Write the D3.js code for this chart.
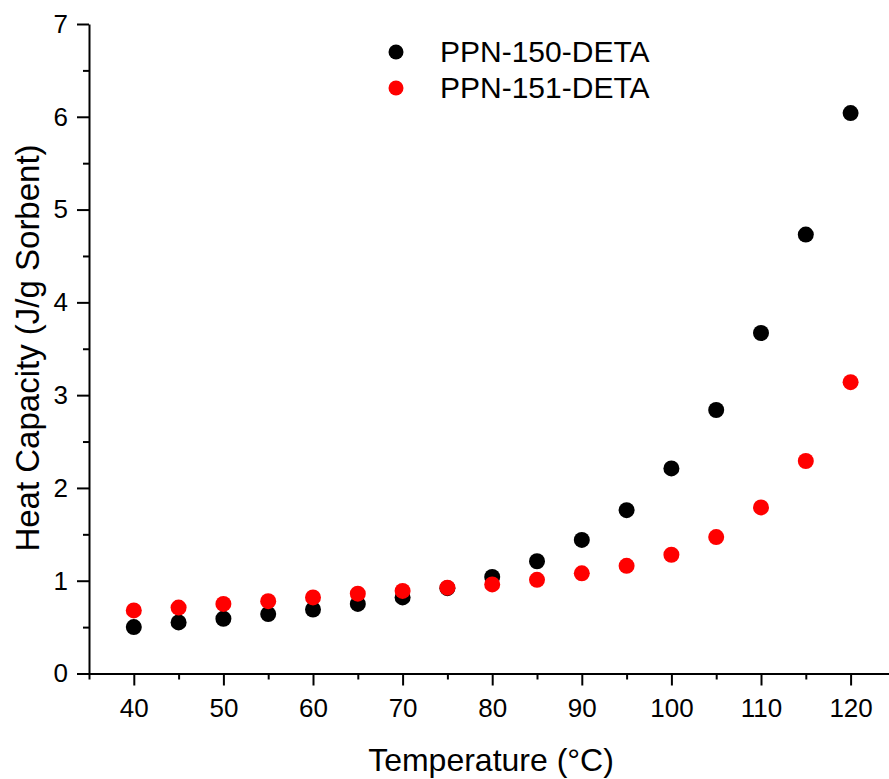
<!DOCTYPE html>
<html>
<head>
<meta charset="utf-8">
<script src="https://cdn.jsdelivr.net/npm/d3@7"></script>
<style>
  body { margin: 0; background: #fff; }
  svg { display: block; }
  svg text { font-family: Arial, "Liberation Sans", sans-serif; }
</style>
</head>
<body>
<div id="chart"></div>
<script>
//////////////////////////// data ////////////////////////////
var temps = [40, 45, 50, 55, 60, 65, 70, 75, 80, 85, 90, 95, 100, 105, 110, 115, 120];
var ppn150 = [0.50, 0.55, 0.59, 0.64, 0.69, 0.75, 0.82, 0.92, 1.04, 1.21, 1.44, 1.76, 2.21, 2.84, 3.67, 4.73, 6.04];
var ppn151 = [0.68, 0.71, 0.75, 0.78, 0.82, 0.86, 0.89, 0.925, 0.96, 1.01, 1.08, 1.16, 1.28, 1.47, 1.79, 2.29, 3.14];
var seriesNames = ["PPN-150-DETA", "PPN-151-DETA"];
var seriesColors = ["#000000", "#ff0000"];
var xMajor = [40, 50, 60, 70, 80, 90, 100, 110, 120];
var xMinor = [35, 45, 55, 65, 75, 85, 95, 105, 115, 125];
var yMajor = [0, 1, 2, 3, 4, 5, 6, 7];
var yMinor = [0.5, 1.5, 2.5, 3.5, 4.5, 5.5, 6.5];

//////////////////////////// layout ////////////////////////////
var wdim = 889, hdim = 779;
var margin = {top: 24, left: 89, bottom: 105.5};

var svg = d3.select("#chart").append("svg")
  .attr("width", wdim)
  .attr("height", hdim);

var x = d3.scaleLinear().domain([35, 125]).range([margin.left, margin.left + 90 * 8.96]);
var y = d3.scaleLinear().domain([0, 7]).range([hdim - margin.bottom, margin.top]);

// axes
function styleAxis(g) {
  g.attr("font-family", "Arial, 'Liberation Sans', sans-serif").attr("font-size", 26);
  g.select(".domain").attr("stroke", "#000").attr("stroke-width", 2);
  g.selectAll(".tick line").attr("stroke", "#000").attr("stroke-width", 2);
  g.selectAll(".tick text").attr("fill", "#000");
}

svg.append("g")
  .attr("transform", "translate(0," + y(0) + ")")
  .call(d3.axisBottom(x).tickValues(xMinor).tickSize(6).tickFormat("").tickSizeOuter(0))
  .call(styleAxis);
svg.append("g")
  .attr("transform", "translate(0," + y(0) + ")")
  .call(d3.axisBottom(x).tickValues(xMajor).tickSize(12).tickPadding(13).tickFormat(d3.format("d")).tickSizeOuter(0))
  .call(styleAxis)
  .call(function(g){ g.select(".domain").remove(); });

svg.append("g")
  .attr("transform", "translate(" + x(35) + ",0)")
  .call(d3.axisLeft(y).tickValues(yMinor).tickSize(6).tickFormat("").tickSizeOuter(0))
  .call(styleAxis);
svg.append("g")
  .attr("transform", "translate(" + x(35) + ",0)")
  .call(d3.axisLeft(y).tickValues(yMajor).tickSize(12).tickPadding(9).tickFormat(d3.format("d")).tickSizeOuter(0))
  .call(styleAxis)
  .call(function(g){ g.select(".domain").remove(); });

// axis titles
svg.append("text")
  .attr("x", 491)
  .attr("y", 771)
  .attr("text-anchor", "middle")
  .style("font-size", "32px")
  .attr("fill", "#000")
  .text("Temperature (\u00B0C)");

svg.append("text")
  .attr("transform", "translate(39," + 348 + ") rotate(-90)")
  .attr("text-anchor", "middle")
  .style("font-size", "33px")
  .attr("fill", "#000")
  .text("Heat Capacity (J/g Sorbent)");

//////////////////////////// points ////////////////////////////
var allSeries = [ppn150, ppn151];
allSeries.forEach(function(vals, si){
  svg.append("g").selectAll("circle")
    .data(temps)
    .enter().append("circle")
    .attr("cx", function(d){ return x(d); })
    .attr("cy", function(d, i){ return y(vals[i]); })
    .attr("r", 8)
    .attr("fill", seriesColors[si]);
});

//////////////////////////// legend ////////////////////////////
var legend = svg.append("g");
seriesNames.forEach(function(name, i){
  legend.append("circle")
    .attr("cx", 396)
    .attr("cy", 52 + i * 36)
    .attr("r", 7.5)
    .attr("fill", seriesColors[i]);
  legend.append("text")
    .attr("x", 440)
    .attr("y", 62 + i * 36)
    .style("font-size", "30px")
    .attr("fill", "#000")
    .text(name);
});
</script>
</body>
</html>
